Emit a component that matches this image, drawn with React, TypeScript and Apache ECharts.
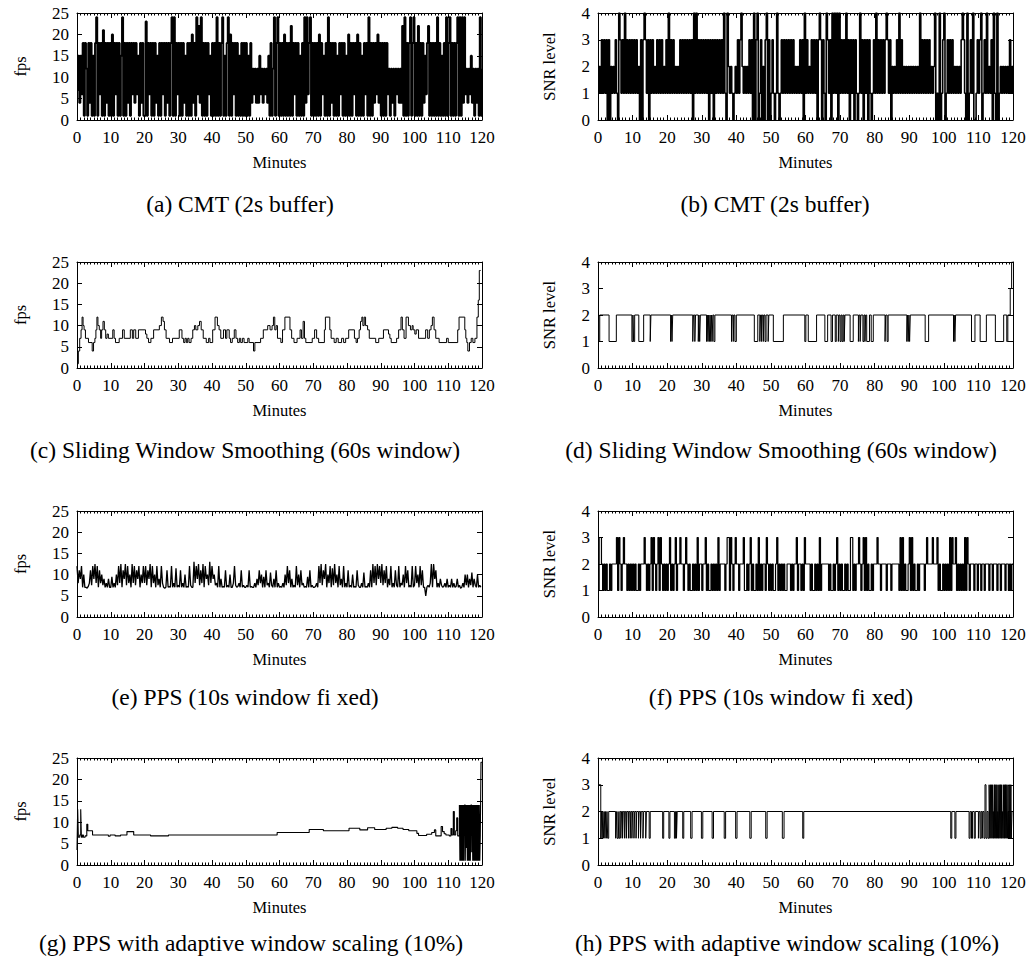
import React, { useEffect, useRef } from "react";
import * as echarts from "echarts";

const FONT = '"Liberation Serif", "Times New Roman", serif';
const SAMPLE_MIN = 1 / 3; // sampled series: one value every 20 s
const X_MAX = 120;
const X_STEP = 10;

// (a) CMT (2s buffer) – fps
const CMT_FPS = [
  7, 15, 4, 15, 6, 18, 1, 18, 12, 1, 18, 4, 18, 1, 15, 1, 18, 24, 1, 18, 6, 18, 1, 21, 1, 18, 4, 18, 1, 18,
  1, 20, 1, 18, 6, 18, 1, 18, 1, 15, 24, 1, 18, 1, 18, 4, 18, 1, 18, 6, 18, 4, 18, 6, 15, 1, 18, 4, 18, 1,
  1, 23, 1, 18, 6, 18, 1, 18, 1, 18, 4, 15, 1, 18, 1, 18, 6, 18, 1, 18, 4, 18, 1, 18, 24, 1, 24, 1, 18, 6,
  18, 1, 18, 1, 18, 4, 15, 1, 18, 1, 18, 1, 20, 4, 18, 1, 24, 6, 22, 4, 24, 1, 18, 1, 18, 1, 18, 6, 15, 1,
  18, 1, 18, 1, 24, 1, 18, 1, 18, 24, 1, 15, 1, 18, 24, 1, 20, 1, 18, 6, 18, 1, 18, 1, 15, 1, 18, 1, 18, 1,
  18, 1, 15, 1, 18, 4, 12, 6, 12, 4, 12, 4, 15, 6, 12, 4, 12, 6, 12, 4, 15, 1, 18, 1, 12, 24, 1, 18, 24, 1,
  18, 1, 18, 1, 20, 1, 18, 1, 18, 1, 22, 1, 18, 6, 18, 1, 18, 1, 15, 1, 18, 1, 24, 4, 24, 6, 18, 24, 1, 18,
  1, 18, 1, 18, 1, 20, 1, 18, 6, 15, 1, 18, 1, 24, 1, 18, 4, 18, 1, 18, 1, 15, 1, 18, 6, 18, 1, 18, 1, 15,
  1, 20, 1, 18, 1, 18, 6, 18, 1, 20, 1, 18, 1, 15, 1, 18, 6, 18, 1, 24, 1, 18, 1, 18, 4, 18, 6, 20, 4, 18,
  1, 18, 1, 18, 1, 18, 6, 12, 1, 12, 4, 12, 1, 12, 6, 12, 4, 12, 4, 22, 1, 24, 1, 18, 1, 18, 24, 1, 18, 24,
  1, 18, 1, 22, 1, 18, 1, 18, 4, 15, 6, 18, 22, 1, 18, 1, 18, 1, 18, 1, 24, 1, 18, 1, 15, 1, 18, 1, 24, 1,
  18, 24, 1, 18, 1, 18, 1, 18, 24, 1, 24, 1, 24, 4, 24, 6, 12, 4, 12, 6, 15, 4, 12, 1, 12, 4, 12, 1, 24, 1, 12,
];

// (b) CMT (2s buffer) – SNR level
const CMT_SNR = [
  1, 2, 1, 3, 1, 3, 1, 3, 0, 3, 0, 2, 1, 2, 1, 3, 1, 0, 4, 3, 1, 3, 1, 4, 1, 3, 1, 3, 1, 3,
  1, 3, 1, 3, 1, 2, 0, 3, 0, 3, 4, 3, 1, 3, 0, 3, 1, 3, 1, 2, 1, 3, 1, 3, 1, 3, 1, 2, 1, 3,
  1, 4, 1, 3, 1, 3, 1, 2, 1, 2, 1, 3, 1, 3, 1, 3, 1, 3, 1, 3, 1, 3, 0, 4, 1, 4, 1, 3, 1, 3,
  1, 3, 1, 3, 1, 3, 0, 3, 1, 3, 0, 3, 1, 3, 1, 3, 1, 3, 1, 4, 1, 0, 4, 2, 1, 2, 1, 0, 1, 2,
  1, 3, 1, 3, 4, 2, 1, 2, 1, 2, 1, 3, 1, 3, 0, 4, 0, 3, 4, 0, 1, 3, 0, 2, 0, 3, 4, 0, 3, 0,
  1, 3, 1, 0, 1, 4, 1, 0, 1, 3, 1, 3, 1, 3, 1, 3, 1, 3, 1, 3, 1, 2, 1, 2, 1, 3, 1, 3, 0, 4,
  1, 3, 1, 2, 1, 3, 1, 3, 1, 3, 0, 3, 4, 3, 0, 3, 1, 0, 4, 3, 1, 3, 0, 4, 1, 4, 1, 4, 0, 4,
  1, 3, 1, 3, 1, 4, 1, 3, 0, 3, 1, 3, 0, 3, 1, 0, 1, 4, 1, 3, 0, 3, 1, 3, 0, 3, 1, 0, 1, 3,
  1, 4, 1, 3, 1, 3, 1, 3, 1, 3, 4, 3, 1, 3, 0, 2, 1, 2, 1, 3, 1, 4, 1, 3, 1, 2, 1, 2, 1, 2,
  1, 2, 1, 2, 1, 2, 1, 2, 1, 4, 1, 3, 1, 3, 1, 3, 1, 3, 1, 2, 1, 2, 4, 0, 1, 0, 4, 0, 1, 3,
  4, 0, 1, 3, 1, 3, 1, 3, 1, 2, 1, 2, 1, 2, 1, 3, 4, 3, 1, 0, 4, 0, 1, 3, 1, 4, 0, 0, 1, 3,
  1, 3, 4, 0, 1, 3, 1, 4, 1, 2, 1, 3, 0, 4, 1, 0, 4, 0, 1, 2, 1, 2, 1, 2, 1, 2, 1, 3, 1, 2, 1,
];

// (c) Sliding window smoothing – fps change points [minute, fps]
const SWS_FPS: [number, number][] = [
  [0, 1], [0.4, 4], [0.8, 7], [1.2, 9], [1.5, 12], [1.8, 10], [2.1, 9], [2.5, 7], [3.4, 6], [4.5, 4],
  [4.9, 6], [5.3, 7], [5.6, 9], [5.9, 12], [6.2, 10], [6.6, 9], [7, 7], [7.3, 9], [7.7, 11], [8.1, 9],
  [8.5, 7], [8.9, 8], [9.3, 7], [10.6, 9], [11, 7], [11.4, 6], [12.5, 7], [13.5, 9], [14, 7], [15.8, 9],
  [16.4, 7], [16.8, 9], [17.4, 7], [18.2, 9], [20.3, 8], [20.7, 7], [21.2, 6], [21.9, 7], [22.7, 9], [24.4, 10],
  [25, 12], [25.5, 11], [25.9, 9], [26.4, 7], [27.4, 6], [28.3, 7], [30.3, 9], [31.1, 7], [31.6, 6], [32, 7],
  [32.4, 6], [32.8, 7], [33.2, 6], [33.8, 7], [34.3, 9], [34.8, 10], [35.2, 9], [35.8, 10], [36.3, 11], [36.8, 9],
  [37.4, 7], [38.3, 6], [39, 7], [39.4, 6], [40.2, 9], [40.9, 12], [41.6, 10], [42.1, 9], [42.6, 7], [43.4, 9],
  [44, 7], [44.4, 9], [45.1, 7], [45.5, 6], [46, 7], [46.6, 9], [47.1, 7], [47.6, 6], [48.1, 7], [48.5, 6],
  [49, 7], [49.5, 6], [50.6, 7], [51, 6], [52.3, 4], [52.7, 6], [54.4, 7], [55.2, 9], [56.5, 10], [57.2, 9],
  [57.8, 10], [58.2, 12], [58.6, 9], [59, 10], [59.4, 7], [60.4, 6], [60.9, 9], [61.6, 12], [63.1, 9], [63.6, 7],
  [64.3, 6], [65.2, 7], [66.1, 9], [66.5, 7], [67, 11], [67.4, 7], [67.8, 6], [69.7, 7], [70.4, 9], [71, 7],
  [71.6, 6], [73.3, 9], [73.6, 12], [74.9, 9], [75.3, 7], [76.2, 6], [76.8, 7], [77.4, 6], [78.4, 7], [79, 6],
  [79.6, 7], [80.5, 9], [82.2, 7], [82.7, 6], [83.1, 7], [83.6, 9], [84, 11], [84.4, 12], [84.7, 10], [85.1, 12],
  [85.5, 10], [86.1, 9], [86.6, 7], [88.5, 6], [89.4, 7], [90.8, 9], [92.3, 8], [92.7, 7], [93.1, 6], [94.7, 7],
  [95.3, 9], [96, 12], [96.4, 9], [96.9, 7], [97.5, 12], [98.2, 10], [98.8, 9], [99.3, 10], [99.6, 9], [100.1, 8],
  [100.5, 9], [101.2, 7], [103.3, 9], [103.9, 7], [104.4, 9], [104.9, 10], [105.3, 12], [105.8, 9], [106.3, 7], [107.3, 6],
  [109.5, 7], [110, 6], [112.8, 9], [113.2, 12], [114.9, 9], [115.2, 7], [115.5, 6], [115.8, 4], [116.3, 6], [116.8, 7],
  [117.3, 6], [117.9, 7], [118.5, 12], [118.9, 16], [119.2, 23], [119.6, 23],
];

// (d) Sliding window smoothing – SNR change points [minute, level]
const SWS_SNR: [number, number][] = [
  [0, 1], [0.5, 2], [3.2, 1], [5.3, 2], [9.8, 1], [10.1, 2], [10.3, 1], [10.6, 2], [11.8, 1], [13.2, 2],
  [15.1, 1], [15.3, 2], [21, 1], [21.2, 2], [21.4, 1], [21.6, 2], [27.4, 1], [27.6, 2], [28, 1], [28.2, 2],
  [29, 1], [29.2, 2], [29.4, 1], [29.6, 2], [31.4, 1], [31.6, 2], [31.8, 1], [32, 2], [32.2, 1], [32.4, 2],
  [32.6, 1], [32.8, 2], [33, 1], [33.2, 2], [33.5, 1], [33.8, 2], [38.6, 1], [38.8, 2], [39.1, 1], [39.3, 2],
  [39.6, 1], [40, 2], [45.2, 1], [46.2, 2], [46.8, 1], [47, 2], [47.3, 1], [47.5, 2], [47.8, 1], [48, 2],
  [48.3, 1], [48.6, 2], [49.2, 1], [49.4, 2], [50.7, 1], [53.6, 2], [59.8, 1], [60.1, 2], [60.8, 1], [63.2, 2],
  [65.6, 1], [66.4, 2], [67.4, 1], [67.8, 2], [68.6, 1], [68.9, 2], [69.5, 1], [69.7, 2], [70, 1], [70.3, 2],
  [70.6, 1], [70.9, 2], [71.2, 1], [71.4, 2], [72.9, 1], [73.8, 2], [75.3, 1], [75.5, 2], [75.8, 1], [76, 2],
  [76.6, 1], [76.9, 2], [77.2, 1], [77.4, 2], [77.7, 1], [78.5, 2], [79, 1], [79.6, 2], [83, 1], [83.2, 2],
  [83.6, 1], [83.9, 2], [89.3, 1], [89.5, 2], [89.7, 1], [89.9, 2], [90.1, 1], [90.3, 2], [94.6, 1], [95.6, 2],
  [102.8, 1], [103, 2], [103.2, 1], [103.4, 2], [108, 1], [109, 2], [110.5, 1], [112.3, 2], [114.9, 1], [117.3, 2],
  [118.2, 1], [118.5, 2], [119.2, 3], [119.6, 4], [120, 4],
];

// (e) PPS (10s window fixed) – fps
const PPS_FPS = [
  12, 8, 11, 9, 12, 7, 10, 7, 7, 6.8, 7.2, 8, 11, 7.5, 12, 9, 12.5, 8, 12, 7, 11, 8, 10, 7.5, 9, 7, 8, 7, 9, 7,
  7, 9.5, 7, 8, 7, 10, 7.5, 12, 8, 12.5, 7, 11, 9, 12.5, 7.5, 12, 8, 10, 7, 12.5, 8, 12, 7.5, 11, 9, 12, 7, 10, 8, 12,
  8, 12, 7.5, 11, 9, 12.5, 7, 12, 8, 10, 7, 12, 7.5, 9, 7, 12, 8, 7, 6.8, 7, 11, 7, 7.2, 7, 12, 7, 8, 7, 11.5, 7,
  7.5, 7, 11, 7, 8, 7, 10, 7, 7.2, 7, 12, 7.5, 7, 7, 13, 8, 12, 9, 12.5, 7.5, 11, 8, 12.5, 7, 12, 9, 10, 7.5, 13, 8,
  12, 9, 10, 7.5, 8, 7, 12, 7, 9, 7, 7.2, 7, 11, 7, 7.5, 7, 10, 7, 7, 8, 12, 7.5, 7, 7.2, 8, 7, 11, 7, 7.5, 7,
  7, 7.5, 7, 11, 7, 7.2, 7, 7, 8, 7, 9, 7.5, 11, 8, 10, 7, 9.5, 7, 11, 7.5, 8, 7, 10.5, 7.5, 7, 9, 7, 11, 7, 8,
  7, 7.2, 7, 8, 7, 10, 7.5, 12, 8, 11, 7, 9, 7, 7.5, 7, 12, 7.5, 10, 7, 11, 7.5, 8, 7, 7.2, 7, 9.5, 7, 11, 7, 7.5,
  7, 7, 7.2, 8, 7, 12, 8, 12.5, 7.5, 11, 9, 12.5, 7, 10, 8, 12, 7, 11.5, 7.5, 12.5, 8, 10, 7, 12, 7.5, 9, 7, 12, 7, 8,
  7, 11, 7, 7.5, 7, 10, 7, 7.2, 7, 11, 7.5, 7, 7, 8, 7, 10.5, 7, 7.2, 7, 8, 7, 11, 7, 12.5, 8, 12, 7.5, 12.5, 9, 12,
  8, 12.5, 7.5, 11, 8, 12, 7, 9, 7.5, 12, 7, 8, 7, 11, 7.5, 7, 12, 7, 8, 7.5, 10, 7, 12, 8, 11, 7, 7.5, 7, 12, 7,
  7.5, 12, 8, 10, 7, 12, 7.5, 11, 7, 7, 5, 7, 7.5, 7, 8, 12.5, 7, 12.5, 9, 11, 7, 8, 7, 9, 7.5, 7, 7.2, 8, 7, 9,
  7, 7.5, 7, 9, 7, 8, 7, 7.2, 9, 7, 7.5, 6.8, 7, 8, 7, 10, 7.5, 10, 7, 9, 7.5, 10.5, 7, 9, 7.5, 7, 10, 7, 7.5, 7,
];

// (f) PPS (10s window fixed) – SNR level
const PPS_SNR = [
  1, 3, 3, 2, 1, 2, 1, 2, 1, 1, 2, 1, 2, 2, 2, 2, 3, 1, 3, 2, 1, 2, 3, 2, 2, 1, 2, 1, 2, 1,
  2, 1, 2, 1, 1, 2, 1, 2, 2, 2, 3, 2, 1, 2, 1, 2, 3, 1, 3, 2, 1, 2, 3, 1, 3, 2, 1, 2, 1, 2,
  1, 2, 3, 1, 2, 1, 2, 3, 1, 2, 2, 3, 2, 2, 1, 2, 3, 2, 1, 2, 1, 1, 2, 1, 2, 1, 3, 1, 2, 2,
  1, 2, 2, 3, 1, 2, 1, 1, 2, 1, 2, 1, 2, 1, 3, 1, 2, 2, 2, 2, 1, 2, 3, 3, 1, 3, 2, 1, 2, 3,
  2, 2, 1, 2, 2, 2, 3, 1, 1, 2, 1, 2, 3, 1, 2, 1, 1, 2, 1, 3, 1, 2, 1, 2, 2, 1, 3, 2, 1, 2,
  1, 2, 1, 1, 2, 3, 1, 2, 1, 2, 1, 2, 1, 1, 2, 2, 2, 1, 2, 1, 2, 2, 3, 1, 2, 2, 1, 2, 1, 3,
  2, 2, 2, 2, 1, 2, 1, 1, 2, 1, 2, 1, 3, 1, 2, 2, 2, 2, 2, 2, 1, 2, 1, 1, 2, 1, 2, 3, 1, 2,
  1, 2, 1, 1, 2, 1, 2, 1, 1, 3, 3, 1, 2, 1, 2, 2, 3, 2, 1, 2, 3, 1, 3, 1, 2, 1, 1, 2, 1, 2,
  2, 2, 3, 2, 2, 1, 2, 2, 2, 2, 1, 2, 2, 2, 1, 2, 2, 2, 2, 2, 2, 1, 3, 1, 3, 1, 2, 1, 1, 2,
  3, 1, 3, 1, 2, 1, 1, 2, 1, 2, 2, 2, 2, 1, 2, 3, 2, 2, 2, 2, 3, 2, 2, 2, 3, 1, 2, 1, 1, 2,
  1, 2, 1, 2, 1, 3, 1, 3, 2, 2, 3, 1, 2, 1, 2, 1, 2, 1, 3, 1, 3, 2, 1, 2, 2, 2, 1, 2, 2, 1,
  2, 2, 1, 2, 2, 1, 2, 2, 2, 1, 2, 2, 1, 2, 2, 2, 1, 2, 2, 1, 2, 2, 2, 1, 2, 2, 1, 2, 1, 2, 2,
];

// (g) PPS with adaptive window scaling – fps change points [minute, fps]
const ADAPT_FPS: [number, number][] = [
  [0, 3.5], [0.2, 13], [0.4, 6.5], [0.8, 7], [1.1, 13], [1.3, 6.5], [1.6, 7], [1.9, 6.5], [2.4, 6.8], [2.9, 9.5],
  [3.2, 8], [4.6, 7], [9.3, 6.7], [9.8, 7], [11.3, 6.8], [12.9, 7], [14.8, 7.8], [16.8, 7], [21.8, 6.8], [27.1, 7],
  [59.3, 7.6], [68.8, 8.3], [73, 8], [80.6, 8.6], [83.8, 8.2], [86.1, 8.7], [88.2, 8.3], [91.6, 8.6], [93.3, 8.8], [95, 8.6],
  [96.6, 8.3], [98.3, 8], [100.7, 7.4], [101.2, 6.9], [103.6, 7.2], [105.1, 7.6], [105.9, 8.2], [106.3, 6.8], [107.9, 9], [108.3, 7.8],
  [108.8, 7.3], [109.3, 7], [110.3, 6.8], [110.8, 8.5], [111.1, 7], [111.5, 12.5], [111.8, 7], [112.2, 8], [112.5, 11], [112.8, 6.8],
  [113.3, 14], [113.45, 1], [113.6, 14], [113.75, 1], [113.9, 14], [114.05, 1], [114.2, 14], [114.35, 1], [114.5, 14], [114.65, 1],
  [114.8, 14], [115.05, 1], [115.2, 14], [115.35, 4], [115.5, 14], [115.65, 1], [115.8, 14], [115.95, 1], [116.1, 14], [116.25, 1],
  [116.4, 14], [116.55, 1], [116.7, 14], [116.95, 3], [117.1, 14], [117.25, 1], [117.4, 14], [117.55, 1], [117.7, 14], [117.85, 1],
  [118, 14], [118.15, 1], [118.3, 14], [118.45, 1], [118.6, 14], [118.75, 1], [118.9, 14], [119.05, 1], [119.2, 14], [119.35, 1],
  [119.5, 7], [119.7, 24], [120, 24],
];

// (h) PPS with adaptive window scaling – SNR change points [minute, level]
const ADAPT_SNR: [number, number][] = [
  [0, 3], [0.8, 1], [1, 2], [1.2, 1], [1.4, 2], [1.6, 1], [1.8, 2], [2, 1], [2.2, 2], [2.4, 1],
  [2.6, 2], [2.8, 1], [3.1, 2], [5.1, 1], [5.3, 2], [5.5, 1], [5.8, 2], [6, 1], [6.3, 2], [6.6, 1],
  [6.8, 2], [7.1, 1], [7.3, 2], [7.7, 1], [7.9, 2], [8.2, 1], [8.4, 2], [8.8, 1], [9, 2], [9.3, 1],
  [9.5, 2], [9.8, 1], [10, 2], [10.4, 1], [10.6, 2], [11, 1], [11.2, 2], [11.7, 1], [11.9, 2], [12.3, 1],
  [12.5, 2], [13, 1], [13.2, 2], [13.8, 1], [14, 2], [14.8, 1], [15.1, 2], [18.7, 1], [19, 2], [20.5, 1],
  [20.8, 2], [22.1, 1], [22.4, 2], [22.7, 1], [22.9, 2], [24.5, 1], [24.8, 2], [26.8, 1], [27.2, 2], [29.9, 1],
  [30.3, 2], [33, 1], [33.4, 2], [36.5, 1], [36.9, 2], [39.8, 1], [40.2, 2], [43.9, 1], [44.3, 2], [48.5, 1],
  [48.9, 2], [53.3, 1], [53.8, 2], [59.2, 1], [59.5, 2], [102, 1], [102.3, 2], [103.2, 1], [103.5, 2], [107.3, 1],
  [107.6, 2], [108, 1], [108.3, 2], [108.8, 1], [109.1, 2], [110, 1], [110.2, 2], [110.5, 1], [110.8, 2], [111.1, 1],
  [111.3, 2], [111.6, 1], [111.9, 3], [112.2, 1], [112.5, 2], [112.8, 1], [113.1, 3], [113.3, 1], [113.5, 3], [113.6, 1],
  [113.8, 3], [113.9, 1], [114.1, 3], [114.2, 1], [114.3, 2], [114.4, 1], [114.6, 3], [114.7, 1], [114.8, 3], [115, 1],
  [115.1, 3], [115.2, 1], [115.4, 3], [115.5, 1], [115.6, 2], [115.8, 1], [115.9, 3], [116, 1], [116.2, 3], [116.3, 1],
  [116.4, 3], [116.6, 1], [116.7, 3], [116.8, 1], [117, 2], [117.1, 1], [117.2, 3], [117.4, 1], [117.5, 3], [117.6, 1],
  [117.8, 3], [117.9, 1], [118, 3], [118.2, 1], [118.3, 3], [118.4, 1], [118.6, 2], [118.7, 1], [118.8, 3], [119, 1],
  [119.1, 3], [119.2, 1], [119.4, 3], [119.5, 1], [119.7, 2], [120, 2],
];

const CAPTIONS = [
  "(a) CMT (2s buffer)",
  "(b) CMT (2s buffer)",
  "(c) Sliding Window Smoothing (60s window)",
  "(d) Sliding Window Smoothing (60s window)",
  "(e) PPS (10s window fi xed)",
  "(f) PPS (10s window fi xed)",
  "(g) PPS with adaptive window scaling (10%)",
  "(h) PPS with adaptive window scaling (10%)",
];

const sampled = (vals: number[]) => vals.map((v, i) => [i * SAMPLE_MIN, v]);

type Panel = {
  data: number[][];
  kind: "fps" | "snr";
  step: false | "end";
  width: number;
};

const PANELS: Panel[] = [
  { data: sampled(CMT_FPS), kind: "fps", step: "end", width: 1.9 },
  { data: sampled(CMT_SNR), kind: "snr", step: "end", width: 1.6 },
  { data: SWS_FPS, kind: "fps", step: "end", width: 1 },
  { data: SWS_SNR, kind: "snr", step: "end", width: 1 },
  { data: sampled(PPS_FPS), kind: "fps", step: false, width: 1.3 },
  { data: sampled(PPS_SNR), kind: "snr", step: "end", width: 1.2 },
  { data: ADAPT_FPS, kind: "fps", step: "end", width: 1.1 },
  { data: ADAPT_SNR, kind: "snr", step: "end", width: 1 },
];

const COLS = [{ left: 77, width: 405 }, { left: 598, width: 415 }];
const ROWS = [
  { top: 13, height: 107, captionY: 204, captionX: [240, 775] },
  { top: 262, height: 106, captionY: 450, captionX: [245, 781] },
  { top: 511, height: 106, captionY: 697, captionX: [245, 781] },
  { top: 758, height: 107, captionY: 943, captionX: [251, 787] },
];

function buildOption() {
  const grid: any[] = [];
  const xAxis: any[] = [];
  const yAxis: any[] = [];
  const series: any[] = [];
  const graphic: any[] = [];
  const black = "#000";
  const tickFont = { fontFamily: FONT, fontSize: 17, color: black };

  PANELS.forEach((p, i) => {
    const c = i % 2;
    const col = COLS[c];
    const row = ROWS[Math.floor(i / 2)];
    grid.push({ left: col.left, top: row.top, width: col.width, height: row.height, containLabel: false });
    const isFps = p.kind === "fps";
    const yMax = isFps ? 25 : 4;
    const yInt = isFps ? 5 : 1;
    const baseX = {
      type: "value",
      gridIndex: i,
      min: 0,
      max: X_MAX,
      interval: X_STEP,
      splitLine: { show: false },
      axisLine: { show: true, onZero: false, lineStyle: { color: black, width: 1 } },
      axisTick: { show: true, inside: true, length: 5, lineStyle: { color: black } },
      minorTick: { show: true, splitNumber: 10, length: 2.5, lineStyle: { color: black } },
    };
    xAxis.push({
      ...baseX,
      position: "bottom",
      name: "Minutes",
      nameLocation: "middle",
      nameGap: 34,
      nameTextStyle: { fontFamily: FONT, fontSize: 16.5, color: black },
      axisLabel: { ...tickFont, margin: 9 },
    });
    xAxis.push({ ...baseX, position: "top", axisLabel: { show: false } });
    const baseY = {
      type: "value",
      gridIndex: i,
      min: 0,
      max: yMax,
      interval: yInt,
      splitLine: { show: false },
      axisLine: { show: true, onZero: false, lineStyle: { color: black, width: 1 } },
      axisTick: { show: true, inside: true, length: 5, lineStyle: { color: black } },
    };
    yAxis.push({
      ...baseY,
      position: "left",
      name: isFps ? "fps" : "SNR level",
      nameLocation: "middle",
      nameGap: isFps ? 48 : 40,
      nameTextStyle: { fontFamily: FONT, fontSize: 16.5, color: black },
      axisLabel: { ...tickFont, margin: 8 },
    });
    yAxis.push({ ...baseY, position: "right", axisLabel: { show: false } });
    series.push({
      type: "line",
      xAxisIndex: 2 * i,
      yAxisIndex: 2 * i,
      data: p.data,
      step: p.step,
      symbol: "none",
      showSymbol: false,
      lineStyle: { color: black, width: p.width },
      silent: true,
    });
    graphic.push({
      type: "text",
      x: row.captionX[c],
      y: row.captionY,
      style: {
        text: CAPTIONS[i],
        fill: black,
        font: `23.5px ${FONT}`,
        align: "center",
        verticalAlign: "middle",
      },
    });
  });

  return {
    animation: false,
    backgroundColor: "#fff",
    grid,
    xAxis,
    yAxis,
    series,
    graphic,
  };
}

export default function App() {
  const ref = useRef<HTMLDivElement>(null);
  useEffect(() => {
    document.body.style.margin = "0";
    const chart = echarts.init(ref.current as HTMLDivElement, null, { renderer: "svg" });
    chart.setOption(buildOption() as any);
    return () => chart.dispose();
  }, []);
  return <div ref={ref} style={{ width: 1033, height: 960, background: "#fff" }} />;
}
